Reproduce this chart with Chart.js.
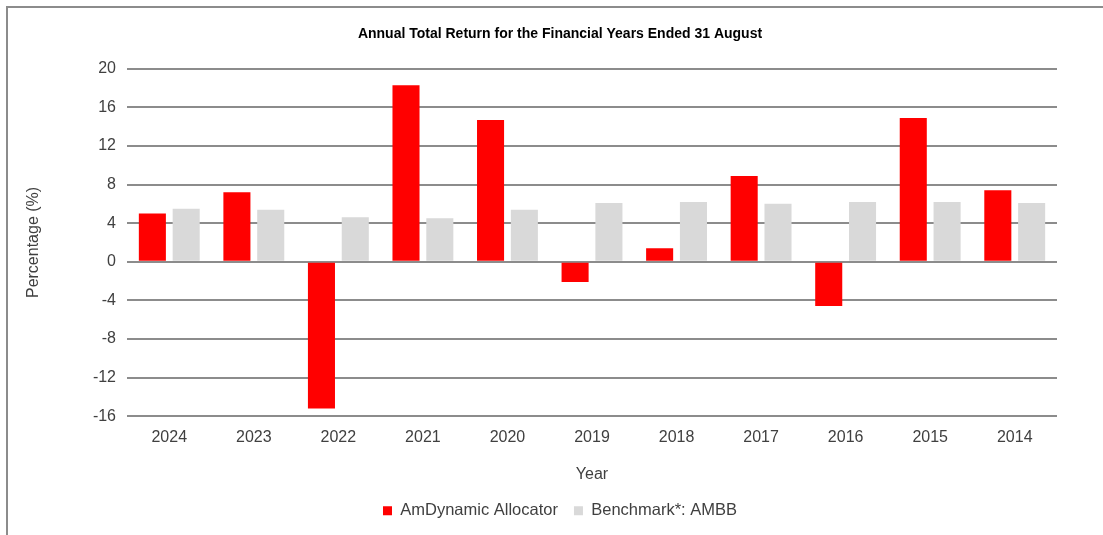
<!DOCTYPE html>
<html>
<head>
<meta charset="utf-8">
<script src="https://cdn.jsdelivr.net/npm/chart.js@4.4.1/dist/chart.umd.min.js"></script>
<style>
  html, body { margin: 0; padding: 0; background: #fff; }
  #frame { position: absolute; left: 6px; top: 6px; width: 1097px; height: 529px;
           border-left: 2px solid #8c8c8c; border-top: 2px solid #8c8c8c; box-sizing: border-box; }
  #wrap { position: absolute; left: 0; top: 0; width: 1103px; height: 535px; }
</style>
</head>
<body>
<div id="frame"></div>
<div id="wrap"><canvas id="return-chart" width="1103" height="535"></canvas></div>
<script>
// values
const YEARS = ['2024', '2023', '2022', '2021', '2020', '2019', '2018', '2017', '2016', '2015', '2014'];
const FUND_RETURNS = [5.0, 7.2, -15.2, 18.3, 14.7, -2.1, 1.4, 8.9, -4.6, 14.9, 7.4];
const BENCHMARK_RETURNS = [5.5, 5.4, 4.6, 4.5, 5.4, 6.1, 6.2, 6.0, 6.2, 6.2, 6.1];
const Y_MIN = -16;
const Y_MAX = 20;
const Y_STEP = 4;

const FONT = "'Liberation Sans', Arial, sans-serif";
const TEXT = '#404040';
const GRID = '#8c8c8c';

function initChart() {
  const canvas = document.getElementById('return-chart');
  new Chart(canvas, {
    type: 'bar',
    data: {
      labels: YEARS,
      datasets: [
        { label: 'AmDynamic Allocator', data: FUND_RETURNS, backgroundColor: '#ff0000' },
        { label: 'Benchmark*: AMBB', data: BENCHMARK_RETURNS, backgroundColor: '#d9d9d9' },
      ],
    },
    options: {
      responsive: false,
      animation: false,
      // wide left padding so title + legend sit where the reference has them
      layout: { padding: { left: 63, right: 46, top: 0, bottom: 6 } },
      datasets: { bar: { categoryPercentage: 0.8, barPercentage: 0.8 } },
      plugins: {
        title: {
          display: true,
          text: 'Annual Total Return for the Financial Years Ended 31 August',
          color: '#000',
          font: { family: "'Liberation Sans Narrow', 'Liberation Sans', sans-serif", size: 14, weight: 'bold' },
          padding: { top: 26, bottom: 26 },
        },
        legend: {
          position: 'bottom',
          labels: {
            color: TEXT,
            font: { family: FONT, size: 16.5 },
            boxWidth: 9,
            boxHeight: 9,
            padding: 16,
          },
        },
        tooltip: { enabled: false },
      },
      scales: {
        x: {
          grid: { display: false },
          border: { display: false },
          ticks: { color: TEXT, font: { family: FONT, size: 16 }, padding: 4 },
          title: { display: true, text: 'Year', color: TEXT, font: { family: FONT, size: 16 }, padding: { top: 14, bottom: 2 } },
        },
        y: {
          min: Y_MIN,
          max: Y_MAX,
          grid: { color: GRID, lineWidth: 2, drawTicks: false },
          border: { display: false },
          ticks: { stepSize: Y_STEP, color: TEXT, font: { family: FONT, size: 16 }, padding: 11 },
          title: { display: true, text: 'Percentage (%)', color: TEXT, font: { family: FONT, size: 16 }, padding: { top: -39, bottom: 0 } },
          afterFit(scale) { scale.width = 64; },
        },
      },
    },
  });
}

document.addEventListener('DOMContentLoaded', initChart);
</script>
</body>
</html>
